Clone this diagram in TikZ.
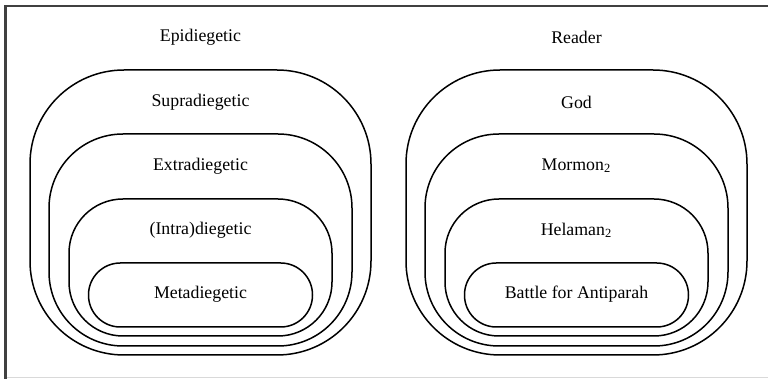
\documentclass[tikz,border=0pt]{standalone}
\usepackage{fontspec}
\setmainfont{Liberation Serif}

\begin{document}
\begin{tikzpicture}[x=0.5pt,y=-0.5pt,font=\fontsize{8.9pt}{10pt}\selectfont,every node/.style={inner sep=0pt},ring/.style={draw,line width=0.75pt},ring 1/.style={ring,minimum width=170.5pt,minimum height=142.5pt,rounded corners=47pt},ring 2/.style={ring,minimum width=151.5pt,minimum height=106pt,rounded corners=37pt},ring 3/.style={ring,minimum width=131.5pt,minimum height=68.5pt,rounded corners=27pt},ring 4/.style={ring,minimum width=112pt,minimum height=32pt,rounded corners=15.9pt}]
    \useasboundingbox (0,0) rectangle (768,379);
    \draw[black!15,line width=0.5pt] (6,377.5) -- (768,377.5);
    \draw[black!75,line width=1pt] (5.5,379) -- (5.5,6.5) -- (768,6.5);
    \node[ring 1] (supra) at (200.5,212.5) {};
    \node[ring 2] (extra) at (200.5,240) {};
    \node[ring 3] (intra) at (200.5,267.5) {};
    \node[ring 4] (meta) at (200.5,295) {};
    \node (epi label) at (200.5,37) {Epidiegetic};
    \node (supra label) at (200.5,102) {Supradiegetic};
    \node (extra label) at (200.5,166) {Extradiegetic};
    \node (intra label) at (200.5,230) {(Intra)diegetic};
    \node (meta label) at (200.5,294) {Metadiegetic};
    \node[ring 1] (god) at (576.5,212.5) {};
    \node[ring 2] (mormon) at (576.5,240) {};
    \node[ring 3] (helaman) at (576.5,267.5) {};
    \node[ring 4] (battle) at (576.5,295) {};
    \node (reader label) at (576.5,37) {Reader};
    \node (god label) at (576.5,102) {God};
    \node (mormon label) at (576.5,166) {Mormon\textsubscript{2}};
    \node (helaman label) at (576.5,230) {Helaman\textsubscript{2}};
    \node (battle label) at (576.5,294) {Battle for Antiparah};
\end{tikzpicture}
\end{document}
